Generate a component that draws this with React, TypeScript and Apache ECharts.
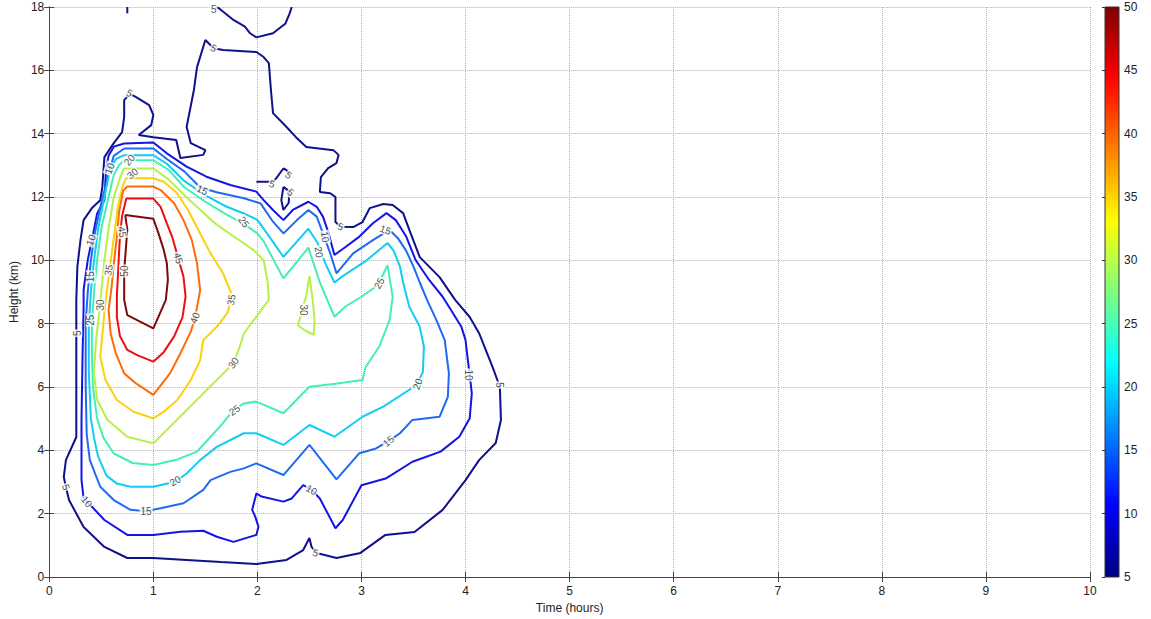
import React, { useEffect, useRef } from "react";
import * as echarts from "echarts";

// ---------- data ----------
const xTicks = [0, 10, 1]; // min, max, interval (hours)
const yTicks = [0, 18, 2]; // min, max, interval (km)
const colorbarTicks = [5, 50, 5];

const levels = [5, 10, 15, 20, 25, 30, 35, 40, 45, 50];
const levelColors = ["#10108a", "#1414e6", "#1f6af5", "#12cdf2", "#44efb6", "#b6f04a", "#fbd20a", "#ff6a0a", "#ee1010", "#7e0a0a"];

const c5Main = [[0.76,15.2],[0.72,15.06],[0.72,14.53],[0.70,14.05],[0.62,13.70],[0.53,13.26],[0.51,12.31],[0.49,11.90],[0.41,11.65],[0.33,11.27],[0.30,10.64],[0.27,9.79],[0.26,8.75],[0.26,7.8],[0.26,6.0],[0.26,4.42],[0.16,3.69],[0.14,3.16],[0.16,2.84],[0.19,2.43],[0.33,1.58],[0.53,0.95],[0.75,0.60],[1.0,0.60],[1.32,0.54],[1.65,0.47],[1.99,0.41],[2.28,0.54],[2.44,0.85],[2.50,1.23],[2.52,0.95],[2.57,0.76],[2.76,0.60],[2.99,0.76],[3.23,1.33],[3.51,1.42],[3.78,2.12],[4.0,3.06],[4.13,3.69],[4.29,4.23],[4.34,4.96],[4.33,6.0],[4.26,6.63],[4.13,7.70],[4.04,8.21],[3.90,8.75],[3.75,9.47],[3.56,10.1],[3.46,10.96],[3.40,11.49],[3.30,11.75],[3.21,11.78],[3.08,11.65],[3.01,11.21],[2.92,11.05],[2.80,11.06],[2.75,11.21],[2.75,12.0],[2.70,12.12],[2.60,12.16],[2.61,12.63],[2.68,12.91],[2.76,13.07],[2.78,13.33],[2.73,13.48],[2.47,13.58],[2.37,13.89],[2.28,14.21],[2.15,14.65],[2.13,15.38],[2.11,16.23],[2.06,16.42],[1.99,16.58],[1.67,16.64],[1.58,16.7],[1.50,16.96],[1.42,16.1],[1.39,15.38],[1.32,14.21],[1.36,13.70],[1.50,13.48],[1.48,13.33],[1.26,13.23],[1.22,13.80],[1.0,13.89],[0.86,13.96],[0.98,14.27],[1.0,14.59],[0.96,14.9],[0.83,15.16],[0.78,15.25]];
const c5Top = [[1.60,18],[1.63,17.96],[1.77,17.59],[1.88,17.38],[1.93,17.17],[1.99,17.04],[2.15,17.17],[2.27,17.48],[2.31,17.80],[2.33,18]];
const c5Tick = [[0.75,18],[0.75,17.8]];
const c5Small1 = [[1.99,12.48],[2.15,12.48],[2.18,12.59],[2.25,12.90],[2.28,12.85],[2.31,12.69]];
const c5Small2 = [[2.25,12.32],[2.31,12.17],[2.30,11.81],[2.25,11.59],[2.23,11.9],[2.25,12.32]];

const c10 = [[0.72,13.69],[1.0,13.72],[1.13,13.38],[1.32,12.96],[1.51,12.64],[1.74,12.38],[1.99,12.17],[2.06,11.9],[2.15,11.59],[2.25,11.27],[2.34,11.59],[2.49,11.85],[2.57,11.69],[2.63,11.38],[2.68,10.9],[2.74,10.17],[2.85,10.43],[2.98,10.75],[3.11,11.17],[3.24,11.49],[3.33,11.27],[3.43,10.75],[3.52,10.01],[3.65,9.38],[3.78,8.85],[3.86,8.43],[3.96,7.9],[4.0,7.48],[4.02,6.9],[4.04,6.38],[4.06,5.8],[4.04,5.01],[3.94,4.43],[3.76,3.96],[3.49,3.64],[3.24,3.12],[3.0,2.90],[2.82,1.80],[2.75,1.54],[2.60,2.48],[2.52,2.75],[2.44,2.90],[2.33,2.48],[2.25,2.38],[2.04,2.54],[1.99,2.64],[1.95,2.12],[1.98,1.90],[2.01,1.59],[1.99,1.33],[1.77,1.11],[1.61,1.27],[1.48,1.46],[1.26,1.43],[1.0,1.33],[0.75,1.33],[0.53,1.80],[0.41,2.22],[0.33,2.49],[0.31,3.06],[0.31,3.47],[0.31,5.0],[0.32,7.0],[0.33,8.5],[0.33,9.06],[0.37,10.01],[0.41,10.64],[0.46,11.48],[0.53,11.9],[0.54,12.54],[0.55,12.96],[0.57,13.3],[0.62,13.59],[0.72,13.69]];

const c15 = [[0.72,13.53],[1.0,13.53],[1.13,13.2],[1.3,12.8],[1.45,12.3],[1.61,12.15],[1.87,11.96],[2.03,11.8],[2.15,11.22],[2.25,10.85],[2.38,11.27],[2.49,11.59],[2.57,11.38],[2.63,10.85],[2.70,10.22],[2.76,9.59],[2.92,10.22],[3.11,10.64],[3.27,10.96],[3.35,10.7],[3.43,10.3],[3.50,9.8],[3.56,9.3],[3.63,8.75],[3.72,8.11],[3.80,7.48],[3.84,6.43],[3.83,5.69],[3.75,5.06],[3.49,4.96],[3.37,4.54],[3.26,4.29],[3.14,4.06],[2.98,3.91],[2.76,3.08],[2.50,4.17],[2.25,3.22],[1.99,3.59],[1.87,3.43],[1.74,3.32],[1.55,3.06],[1.48,2.75],[1.29,2.33],[1.07,2.17],[0.93,2.08],[0.78,2.12],[0.62,2.43],[0.49,2.85],[0.39,3.69],[0.36,4.5],[0.35,6],[0.35,8],[0.37,9],[0.40,10],[0.44,10.9],[0.50,11.8],[0.56,12.6],[0.62,13.3],[0.72,13.53]];

const c20 = [[0.72,13.32],[1.0,13.32],[1.13,13.05],[1.3,12.5],[1.5,12.05],[1.7,11.7],[1.87,11.48],[2.0,11.28],[2.06,11.0],[2.25,10.11],[2.49,11.0],[2.58,10.54],[2.66,9.85],[2.74,9.3],[2.82,9.5],[3.05,10.0],[3.25,10.55],[3.31,10.3],[3.37,9.8],[3.40,9.3],[3.46,8.53],[3.56,7.9],[3.60,7.27],[3.59,6.48],[3.53,6.06],[3.43,5.85],[3.21,5.38],[3.01,5.06],[2.74,4.43],[2.50,4.80],[2.25,4.17],[1.99,4.54],[1.87,4.54],[1.61,4.11],[1.45,3.69],[1.32,3.27],[1.21,3.01],[1.0,2.85],[0.78,2.85],[0.65,2.95],[0.55,3.2],[0.47,3.8],[0.43,4.4],[0.40,5.0],[0.38,6.5],[0.38,8.0],[0.40,9.0],[0.43,10.0],[0.47,11.0],[0.53,12.0],[0.58,12.8],[0.64,13.2],[0.72,13.32]];

const c25 = [[0.72,13.16],[1.0,13.16],[1.15,12.85],[1.3,12.3],[1.5,11.85],[1.7,11.45],[1.87,11.15],[2.0,10.85],[2.06,10.6],[2.25,9.43],[2.49,10.4],[2.60,9.3],[2.74,8.22],[2.85,8.55],[3.0,8.85],[3.16,9.22],[3.25,9.85],[3.30,8.84],[3.27,8.11],[3.17,7.27],[3.04,6.63],[3.01,6.22],[2.75,6.1],[2.50,6.01],[2.25,5.17],[1.99,5.54],[1.87,5.48],[1.77,5.27],[1.64,4.75],[1.55,4.43],[1.42,3.96],[1.22,3.7],[1.0,3.54],[0.80,3.6],[0.62,3.9],[0.52,4.4],[0.46,5.0],[0.42,6.0],[0.41,7.0],[0.41,8.0],[0.43,9.0],[0.46,10.0],[0.50,11.0],[0.57,12.0],[0.62,12.7],[0.67,13.0],[0.72,13.16]];

const c30 = [[0.72,12.9],[1.0,12.9],[1.15,12.55],[1.3,12.05],[1.45,11.6],[1.6,11.15],[1.75,10.8],[1.87,10.54],[1.96,10.33],[2.06,10.01],[2.10,9.27],[2.11,8.75],[1.99,8.22],[1.87,7.69],[1.83,7.27],[1.77,6.76],[1.64,6.32],[1.48,5.80],[1.29,5.17],[1.0,4.22],[0.75,4.43],[0.56,4.96],[0.46,5.59],[0.43,6.43],[0.45,7.48],[0.48,8.33],[0.50,9.0],[0.53,10.0],[0.57,11.0],[0.62,12.0],[0.68,12.6],[0.72,12.9]];
const c30Loop = [[2.50,9.5],[2.53,8.8],[2.55,8.1],[2.54,7.65],[2.45,7.8],[2.39,7.95],[2.42,8.3],[2.47,8.9],[2.50,9.5]];

const c35 = [[0.74,12.6],[1.0,12.59],[1.10,12.48],[1.23,12.12],[1.34,11.55],[1.45,10.85],[1.55,10.22],[1.67,9.59],[1.75,8.96],[1.75,8.75],[1.71,8.33],[1.61,7.9],[1.48,7.48],[1.45,6.85],[1.36,6.22],[1.23,5.59],[1.10,5.22],[1.0,5.01],[0.81,5.22],[0.65,5.59],[0.54,6.22],[0.49,6.96],[0.52,8.0],[0.54,8.7],[0.58,9.7],[0.62,10.7],[0.66,11.7],[0.71,12.4],[0.74,12.6]];

const c40 = [[0.75,12.33],[1.0,12.33],[1.07,12.22],[1.20,11.80],[1.29,11.27],[1.37,10.64],[1.42,9.9],[1.45,9.06],[1.40,8.17],[1.36,7.75],[1.26,7.06],[1.16,6.43],[1.0,5.75],[0.83,6.12],[0.72,6.43],[0.64,7.06],[0.59,7.69],[0.57,8.43],[0.60,9.17],[0.62,9.9],[0.65,10.75],[0.67,11.5],[0.71,12.2],[0.75,12.33]];

const c45 = [[0.74,11.95],[1.0,11.95],[1.07,11.69],[1.13,11.17],[1.18,10.75],[1.24,10.06],[1.29,9.48],[1.31,8.85],[1.28,8.2],[1.20,7.6],[1.10,7.1],[1.0,6.8],[0.85,7.0],[0.75,7.17],[0.68,7.6],[0.65,8.2],[0.65,8.9],[0.66,9.5],[0.67,10.2],[0.68,10.8],[0.70,11.4],[0.74,11.95]];

const c50 = [[0.73,11.43],[1.0,11.31],[1.05,10.85],[1.10,10.33],[1.13,9.9],[1.14,9.38],[1.12,8.75],[1.05,8.22],[1.0,7.85],[0.75,8.27],[0.73,8.59],[0.72,8.75],[0.72,9.17],[0.72,9.64],[0.73,10.11],[0.75,10.96],[0.73,11.43]];

const contourPieces: [number, number[][]][] = [
  [5, c5Main], [5, c5Top], [5, c5Tick], [5, c5Small1], [5, c5Small2],
  [10, c10], [15, c15], [20, c20], [25, c25], [30, c30], [30, c30Loop],
  [35, c35], [40, c40], [45, c45], [50, c50],
];

// [text, time, height, rotation]
const contourLabels: [string, number, number, number][] = [
  ["5", 0.16, 2.84, -70], ["10", 0.36, 2.38, -50], ["15", 0.93, 2.08, 0], ["20", 1.21, 3.03, 30],
  ["25", 1.78, 5.27, 35], ["30", 1.77, 6.76, 55], ["35", 1.75, 8.75, 80], ["40", 1.40, 8.18, 70],
  ["45", 1.24, 10.07, -75], ["50", 0.72, 9.66, 90], ["45", 0.70, 10.9, -80], ["30", 0.49, 8.59, 90],
  ["25", 0.40, 8.11, 90], ["5", 0.27, 7.70, 90], ["15", 0.40, 9.48, 90], ["35", 0.57, 9.69, 80],
  ["10", 0.40, 10.64, 70], ["10", 0.58, 12.9, 70], ["20", 0.77, 13.17, 50], ["30", 0.80, 12.74, 40],
  ["15", 1.47, 12.22, -25], ["25", 1.87, 11.21, -55], ["5", 2.14, 12.41, -20], ["5", 2.30, 12.69, -40],
  ["5", 2.32, 12.15, -40], ["10", 2.65, 10.74, -80], ["20", 2.59, 10.26, -80], ["5", 2.80, 11.06, -20],
  ["15", 3.23, 10.96, -20], ["25", 3.17, 9.28, 60], ["30", 2.44, 8.43, -90], ["20", 3.54, 6.09, 70],
  ["15", 3.26, 4.29, 40], ["10", 2.52, 2.75, -30], ["5", 2.56, 0.76, -20], ["10", 4.03, 6.38, -90],
  ["5", 4.33, 6.06, -90], ["5", 1.58, 16.7, -30], ["5", 1.58, 17.93, 0], ["5", 0.77, 15.28, -30],
];

const jetStops = [
  [0, "#000080"], [0.125, "#0000ff"], [0.375, "#00ffff"], [0.625, "#ffff00"], [0.875, "#ff0000"], [1, "#800000"],
];

// ---------- chart ----------
const FONT = "'Liberation Sans', Arial, sans-serif";
const colorOf = (lvl: number) => levelColors[levels.indexOf(lvl)];

function buildOption(): any {
  const axisText = { color: "#222", fontSize: 12, fontFamily: FONT };
  const lineSeries = contourPieces.map(([lvl, pts]) => ({
    type: "line",
    xAxisIndex: 0,
    yAxisIndex: 0,
    data: pts,
    symbol: "none",
    showSymbol: false,
    smooth: false,
    silent: true,
    lineStyle: { width: 2, color: colorOf(lvl) },
    z: 3,
  }));
  const labelSeries = {
    type: "scatter",
    xAxisIndex: 0,
    yAxisIndex: 0,
    silent: true,
    symbol: "circle",
    symbolSize: 0.1,
    itemStyle: { color: "rgba(0,0,0,0)" },
    z: 5,
    label: { show: true },
    labelLayout: { hideOverlap: false },
    data: contourLabels.map(([t, x, y, r]) => ({
      value: [x, y],
      label: {
        show: true,
        position: "inside",
        formatter: t,
        rotate: r,
        fontSize: 10,
        fontFamily: FONT,
        color: "#222",
        backgroundColor: "#fff",
        padding: [0, 1],
      },
    })),
  };
  const colorbar = {
    type: "custom",
    xAxisIndex: 2,
    yAxisIndex: 2,
    silent: true,
    data: [[0, colorbarTicks[0], colorbarTicks[1]]],
    renderItem: (_p: any, api: any) => {
      const tl = api.coord([0, api.value(2)]);
      const br = api.coord([1, api.value(1)]);
      return {
        type: "rect",
        shape: { x: tl[0], y: tl[1], width: br[0] - tl[0], height: br[1] - tl[1] },
        style: {
          fill: new echarts.graphic.LinearGradient(0, 1, 0, 0, jetStops.map(([o, c]) => ({ offset: o as number, color: c as string }))),
          stroke: "#333",
          lineWidth: 1,
        },
      };
    },
  };

  return {
    animation: false,
    backgroundColor: "#fff",
    grid: [
      { left: 45, top: 7, width: 1045, height: 570, show: false },
      { left: 1105, top: 7, width: 14, height: 570, show: false },
    ],
    xAxis: [
      {
        gridIndex: 0, type: "value", min: xTicks[0], max: xTicks[1], interval: xTicks[2], position: "bottom",
        name: "Time (hours)", nameLocation: "middle", nameGap: 23,
        nameTextStyle: { ...axisText },
        axisLine: { show: true, lineStyle: { color: "#444", width: 1 } },
        axisTick: { show: true, inside: true, length: 5, lineStyle: { color: "#444" } },
        axisLabel: { ...axisText, margin: 8 },
        splitLine: { show: true, lineStyle: { type: "dotted", color: "#b0b0b0", width: 1 } },
      },
      {
        gridIndex: 0, type: "value", min: xTicks[0], max: xTicks[1], interval: xTicks[2], position: "top",
        axisLine: { show: true, lineStyle: { color: "#444", width: 1 } },
        axisTick: { show: true, inside: true, length: 5, lineStyle: { color: "#444" } },
        axisLabel: { show: false },
        splitLine: { show: false },
      },
      { gridIndex: 1, type: "value", min: 0, max: 1, show: false },
    ],
    yAxis: [
      {
        gridIndex: 0, type: "value", min: yTicks[0], max: yTicks[1], interval: yTicks[2], position: "left",
        name: "Height (km)", nameLocation: "middle", nameGap: 25, nameRotate: 90,
        nameTextStyle: { ...axisText },
        axisLine: { show: true, lineStyle: { color: "#444", width: 1 } },
        axisTick: { show: true, inside: true, length: 5, lineStyle: { color: "#444" } },
        axisLabel: { ...axisText, margin: 5 },
        splitLine: { show: true, lineStyle: { type: "dotted", color: "#b0b0b0", width: 1 } },
      },
      {
        gridIndex: 0, type: "value", min: yTicks[0], max: yTicks[1], interval: yTicks[2], position: "right",
        axisLine: { show: true, lineStyle: { color: "#444", width: 1 } },
        axisTick: { show: true, inside: true, length: 5, lineStyle: { color: "#444" } },
        axisLabel: { show: false },
        splitLine: { show: false },
      },
      {
        gridIndex: 1, type: "value", min: colorbarTicks[0], max: colorbarTicks[1], interval: colorbarTicks[2], position: "right",
        axisLine: { show: false },
        axisTick: { show: true, inside: true, length: 3, lineStyle: { color: "#333" } },
        axisLabel: { ...axisText, margin: 5 },
        splitLine: { show: false },
      },
    ],
    series: [...lineSeries, labelSeries, colorbar],
  };
}

export default function App() {
  const ref = useRef<HTMLDivElement>(null);
  useEffect(() => {
    if (!ref.current) return;
    const chart = echarts.init(ref.current, null, { renderer: "svg" });
    chart.setOption(buildOption());
    return () => chart.dispose();
  }, []);
  return (
    <div
      ref={ref}
      style={{ position: "absolute", left: 0, top: 0, width: 1151, height: 619, background: "#fff" }}
    />
  );
}
